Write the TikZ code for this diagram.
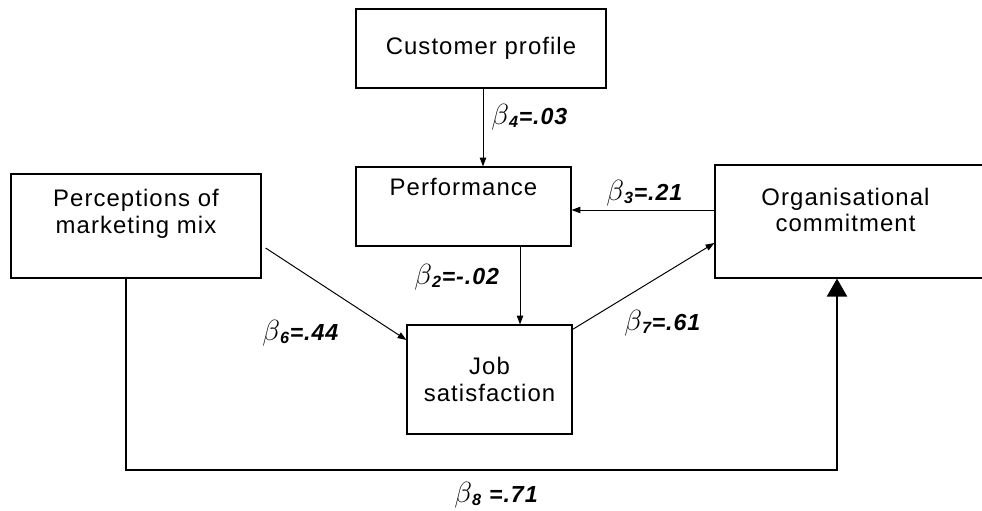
\documentclass[tikz,border=0pt]{standalone}
\usepackage{fontspec}
\setmainfont{Liberation Sans}
\newfontfamily\boxfont[LetterSpace=4.5]{Liberation Sans}
\newfontfamily\coeffont[LetterSpace=4]{Liberation Sans}
\usetikzlibrary{arrows.meta}

\newcommand{\coefb}[1]{\scalebox{1.2}{$\beta$}\textsubscript{#1}}

\tikzset{
  box/.style={draw, line width=0.8pt, inner sep=0pt},
  boxtext/.style={font=\boxfont\fontsize{17}{18.8}\selectfont, align=center, inner sep=0pt},
  coef/.style={font=\coeffont\bfseries\itshape\fontsize{16.5}{19}\selectfont, inner sep=0pt, anchor=west},
  link/.style={line width=0.7pt, -{Triangle[length=0.22cm, width=0.16cm]}},
  direct/.style={line width=1.5pt, -{Triangle[length=0.45cm, width=0.5cm]}},
}

\begin{document}
\begin{tikzpicture}[x=0.025cm, y=-0.025cm]
    \useasboundingbox (0,0) rectangle (982,511);
    \clip (0,0) rectangle (982,511);
    % Boxes
    \node[box, boxtext, minimum width=6.25cm, minimum height=1.975cm] (cust) at (481,48.5) {Customer profile};
    \node[box, minimum width=5.375cm, minimum height=1.975cm,
      label={[boxtext, anchor=north, yshift=-0.275cm]north:Performance}] (perf) at (463.5,206.5) {};
    \node[box, minimum width=6.25cm, minimum height=2.6cm,
      label={[boxtext, anchor=north, yshift=-0.39cm]north:Perceptions of\\marketing mix}] (perc) at (136,226) {};
    \node[box, minimum width=8cm, minimum height=2.825cm,
      label={[boxtext, anchor=north, xshift=-0.7375cm, yshift=-0.575cm]north:Organisational\\commitment}] (org) at (875,221.5) {};
    \node[box, boxtext, minimum width=4.125cm, minimum height=2.725cm] (job) at (489.5,379.5) {Job\\satisfaction};

    % Coefficients
    \node[coef] (b4) at (491,117) {\coefb{4}=.03};
    \node[coef] (b3) at (606,193) {\coefb{3}=.21};
    \node[coef] (b2) at (414,277) {\coefb{2}=-.02};
    \node[coef] (b6) at (262,333) {\coefb{6}=.44};
    \node[coef] (b7) at (624,323) {\coefb{7}=.61};
    \node[coef] (b8) at (454,495) {\coefb{8} =.71};

    % Connections
    \draw[link] ([xshift=0.05cm]cust.south) -- ([xshift=0.05cm]cust.south |- perf.north);
    \draw[link] ([yshift=0.2875cm]org.west) -- ([yshift=0.2875cm]org.west -| perf.east);
    \draw[link] ([xshift=1.4125cm]perf.south) -- ([xshift=1.4125cm]perf.south |- job.north);
    \draw[link] ([xshift=0.1cm, yshift=-0.55cm]perc.east) -- ([yshift=0.9875cm]job.west);
    \draw[link] ([yshift=-0.125cm]job.north east) -- ([yshift=-0.5375cm]org.west);
    \draw[direct] ([xshift=-0.25cm]perc.south) -- ++(0,191) -| ([xshift=-0.95cm]org.south);
\end{tikzpicture}
\end{document}
